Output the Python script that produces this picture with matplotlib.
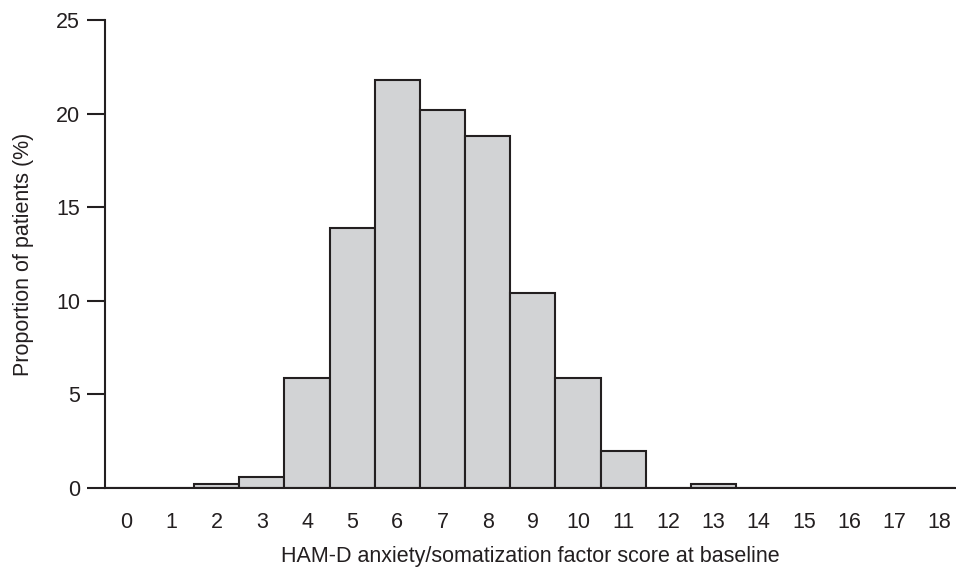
import matplotlib
matplotlib.use("Agg")
import matplotlib.pyplot as plt

plt.rcParams['font.family'] = ['Liberation Sans', 'DejaVu Sans']

# данные: балл HAM-D и доля пациентов (%)
scores = list(range(19))
percent = [0, 0, 0.2, 0.6, 5.9, 13.9, 21.8, 20.2, 18.8, 10.4, 5.9, 2.0, 0, 0.2, 0, 0, 0, 0, 0]
y_ticks = [0, 5, 10, 15, 20, 25]

ink = '#231f20'
fs = 15.5

fig = plt.figure(figsize=(9.56, 5.69), dpi=100)
ax = fig.add_axes([0.110, 0.1424, 0.889, 0.8225])

ax.bar(scores, percent, width=1.0, color='#d2d3d5', edgecolor=ink, linewidth=1.5)

ax.set_xlim(-0.47, 18.35)
ax.set_ylim(0, 25)
ax.set_xticks(scores)
ax.set_xticklabels([str(s) for s in scores])
ax.set_yticks(y_ticks)

for side in ['top', 'right']:
    ax.spines[side].set_visible(False)
for side in ['left', 'bottom']:
    ax.spines[side].set_linewidth(1.5)
    ax.spines[side].set_color(ink)

ax.tick_params(axis='y', length=13, width=1.5, color=ink, pad=5, labelsize=fs, labelcolor=ink)
ax.tick_params(axis='x', length=0, pad=17, labelsize=fs, labelcolor=ink)

ax.set_xlabel('HAM-D anxiety/somatization factor score at baseline', fontsize=fs, color=ink, labelpad=10)
ax.set_ylabel('Proportion of patients (%)', fontsize=fs, color=ink, labelpad=16)

fig.savefig('out.png', dpi=100)
